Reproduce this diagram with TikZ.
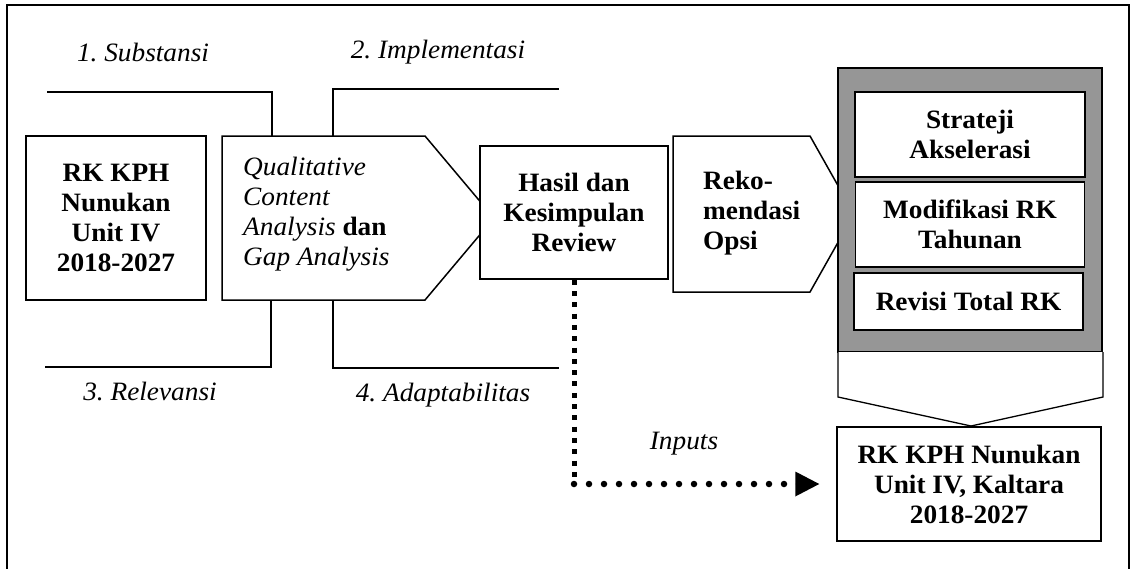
\documentclass[tikz,border=0pt]{standalone}
\usepackage{fontspec}
\setmainfont{Liberation Serif}[FakeStretch=1.03]
\usetikzlibrary{arrows.meta}
\definecolor{greyfill}{RGB}{150,150,150}
\frenchspacing
\tikzset{
  boxline/.style={draw=black, line width=1.5pt},
  txt/.style={font=\fontsize{26.5}{30}\selectfont, inner sep=0pt},
  btxt/.style={font=\fontsize{26.5}{30}\selectfont\bfseries, inner sep=0pt},
  itxt/.style={font=\fontsize{26.5}{30}\selectfont\itshape, inner sep=0pt},
  wbox/.style={boxline, fill=white, btxt, align=center},
  bracket/.style={draw=black, line width=1.3pt},
  sqdots/.style={draw=black, line width=5pt, dash pattern=on 5pt off 6.3pt},
  rddots/.style={draw=black, line width=6.5pt, line cap=round, dash pattern=on 0pt off 15pt}
}
\begin{document}
\begin{tikzpicture}[x=1pt,y=-1pt]
\useasboundingbox (0,0) rectangle (1134,568);
% outer frame
\draw[line width=1.5pt] (7,5) rectangle (1129,580);

% box 1
\node[wbox, minimum width=180pt, minimum height=164pt] (rk) at (116,218)
  {RK KPH\\Nunukan\\Unit IV\\2018-2027};

% pentagon 1
\coordinate (p1a) at (222,136);
\coordinate (p1b) at (425,136);
\coordinate (p1tip) at (494,218);
\coordinate (p1c) at (425,300);
\coordinate (p1d) at (222,300);
\draw[boxline, fill=white] (p1a) -- (p1b) -- (p1tip) -- (p1c) -- (p1d) -- cycle;
\node[txt, align=left, anchor=west] (qca) at (243,214)
  {\textit{Qualitative}\\\textit{Content}\\\textit{Analysis} \textbf{dan}\\\textit{Gap Analysis}};

% brackets
\draw[bracket] (47,92) -- (272,92) -- (272,136);
\draw[bracket] (333,136) -- (333,89) -- (559,89);
\draw[bracket] (271,300) -- (271,367) -- (45,367);
\draw[bracket] (333,300) -- (333,368) -- (559,368);

% bracket labels
\node[itxt] (l1) at (143,52) {1. Substansi};
\node[itxt] (l2) at (438,52) {2. Implementasi};
\node[itxt] (l3) at (150,391) {3. Relevansi};
\node[itxt] (l4) at (443,395) {4. Adaptabilitas};

% Hasil box
\node[wbox, minimum width=188pt, minimum height=133pt] (hasil) at (574,212.5)
  {Hasil dan\\Kesimpulan\\Review};

% Reko pentagon
\coordinate (p2a) at (673,136);
\coordinate (p2b) at (810,136);
\coordinate (p2tip) at (854,214);
\coordinate (p2c) at (810,292);
\coordinate (p2d) at (673,292);
\draw[boxline, fill=white] (p2a) -- (p2b) -- (p2tip) -- (p2c) -- (p2d) -- cycle;
\node[btxt, align=left, anchor=west] (reko) at (703,213) {Reko-\\mendasi\\Opsi};

% grey container
\draw[boxline, fill=greyfill] (838,68) rectangle (1102,352);
\node[wbox, minimum width=230pt, minimum height=85pt] (strat) at (970,134.5)
  {Strateji\\Akselerasi};
\node[wbox, minimum width=229pt, minimum height=85pt] (modif) at (970,224.5)
  {Modifikasi RK\\Tahunan};
\node[wbox, minimum width=229pt, minimum height=57pt] (revisi) at (968.5,301.5)
  {Revisi Total RK};

% down arrow shape
\draw[line width=1.3pt, fill=white] (838,352) -- (838,397) -- (971,426) -- (1103,397) -- (1103,352);

% final box
\node[wbox, minimum width=264pt, minimum height=114pt] (final) at (969,484)
  {RK KPH Nunukan\\Unit IV, Kaltara\\2018-2027};

% inputs connector
\coordinate (bend) at (hasil.south |- final.west);
\coordinate (inend) at ([xshift=-17pt]final.west);
\draw[sqdots] (hasil.south) -- (bend);
\draw[rddots] (bend) -- ([xshift=-20pt]inend);
\fill (inend) -- ++(-24,-12.5) -- ++(0,25) -- cycle;
\node[itxt] (inputs) at (684,444) {Inputs};
\end{tikzpicture}
\end{document}
